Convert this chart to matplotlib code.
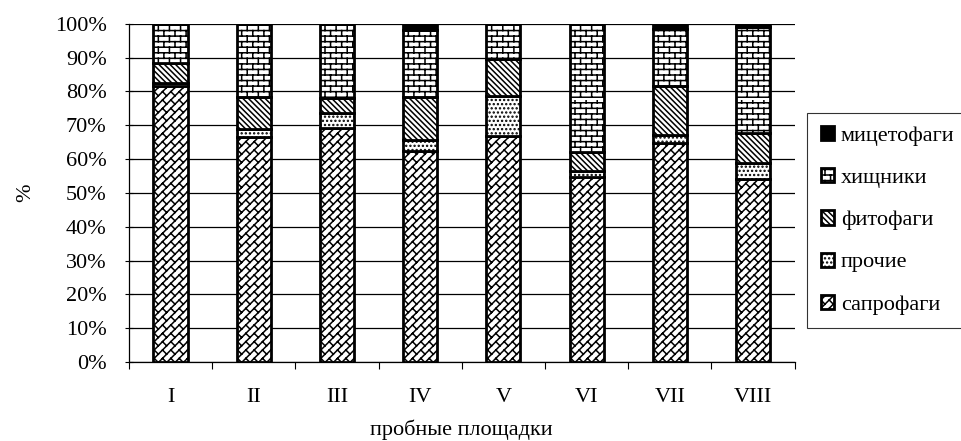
import warnings
import numpy as np
import matplotlib
matplotlib.use("Agg")
import matplotlib.pyplot as plt
import matplotlib.hatch as mhatch
from matplotlib.path import Path
from matplotlib.ticker import PercentFormatter

# доли трофических групп по пробным площадкам, %
plots = ["I", "II", "III", "IV", "V", "VI", "VII", "VIII"]
saprophages = [81.5, 66.5, 69.2, 62.4, 66.9, 54.7, 64.8, 54.1]
others = [1.0, 2.3, 4.5, 3.3, 11.8, 1.8, 2.4, 4.8]
phytophages = [6.0, 9.6, 4.4, 12.7, 10.9, 5.6, 14.5, 8.9]
predators = [11.5, 21.6, 21.9, 19.8, 10.4, 37.9, 16.8, 31.2]
mycetophages = [0.0, 0.0, 0.0, 1.8, 0.0, 0.0, 1.5, 1.0]


class _SegmentHatch(mhatch.HatchPatternBase):
    """Штриховка из отрезков, как кирпичные заливки в Excel."""
    char = None

    def __init__(self, hatch, density):
        n = hatch.count(self.char) * density
        n += n % 2  # чётное число рядов, чтобы плитка стыковалась
        self.segs = self.segments(n) if n else np.empty((0, 2, 2))
        self.num_vertices = len(self.segs) * 2

    def set_vertices_and_codes(self, vertices, codes):
        vertices[0::2] = self.segs[:, 0]
        vertices[1::2] = self.segs[:, 1]
        codes[0::2] = Path.MOVETO
        codes[1::2] = Path.LINETO


class HorizontalBrick(_SegmentHatch):
    char = "B"

    def segments(self, n):
        m = n // 2
        segs = []
        for k in range(n):
            y0 = (k + 0.5) / n
            segs.append([(0.0, y0), (1.0, y0)])
            for j in range(m):
                x = (j + 0.25 + 0.5 * (k % 2)) / m
                segs.append([(x, y0), (x, y0 + 1.0 / n)])
        return np.array(segs)


class DiagonalBrick(_SegmentHatch):
    char = "D"

    def segments(self, n):
        m = n // 2
        segs = []
        uv = lambda u, v: ((u - v) / 2, (u + v) / 2)
        for k in range(-n, n):
            v0 = (k + 0.5) / n
            segs.append([uv(-1, v0), uv(3, v0)])
            for j in range(-1, 2 * m + 1):
                u = (j + 0.25 + 0.5 * (k % 2)) / m
                segs.append([uv(u, v0), uv(u, v0 + 1.0 / n)])
        return np.array(segs)


mhatch._hatch_types.extend([HorizontalBrick, DiagonalBrick])
warnings.filterwarnings("ignore")

plt.rcParams["font.family"] = ["Liberation Serif", "DejaVu Serif"]
plt.rcParams["hatch.linewidth"] = 1.1
plt.rcParams["hatch.color"] = "black"

fig = plt.figure(figsize=(9.62, 4.41), dpi=100)
ax = fig.add_axes([0.134, 0.179, 0.692, 0.767])

groups = [
    ("сапрофаги", saprophages, "DD"),
    ("прочие", others, "...."),
    ("фитофаги", phytophages, "\\\\\\\\\\\\"),
    ("хищники", predators, "BBB"),
    ("мицетофаги", mycetophages, None),
]

x = np.arange(len(plots))
bottom = np.zeros(len(plots))
handles = []
for name, vals, hatch in groups:
    vals = np.array(vals)
    face = "black" if hatch is None else "white"
    bars = ax.bar(x, vals, 0.41, bottom=bottom, color=face, edgecolor="black",
                  hatch=hatch, linewidth=2.0, label=name, zorder=3)
    handles.append(bars)
    bottom += vals

ax.set_xlim(-0.5, len(plots) - 0.5)
ax.set_ylim(0, 100)
ax.set_yticks(np.arange(0, 101, 10))
ax.yaxis.set_major_formatter(PercentFormatter(decimals=0))
ax.set_xticks(x)
ax.set_xticklabels(plots)
ax.set_xticks(np.arange(-0.5, len(plots), 1), minor=True)
ax.tick_params(axis="x", which="major", length=0, pad=19, labelsize=16)
ax.tick_params(axis="x", which="minor", length=5, direction="out", width=0.8)
ax.tick_params(axis="y", length=6, direction="inout", width=0.8, labelsize=16, pad=13)
ax.grid(axis="y", color="black", linewidth=0.9, zorder=0)
for side in ("top", "right"):
    ax.spines[side].set_visible(False)
for side in ("left", "bottom"):
    ax.spines[side].set_linewidth(0.9)

ax.set_xlabel("пробные площадки", fontsize=16, labelpad=9)
ax.set_ylabel("%", fontsize=16, labelpad=14)

leg = fig.legend(handles[::-1], [g[0] for g in groups][::-1],
                 loc="upper right", bbox_to_anchor=(1.006, 0.744),
                 borderaxespad=0,
                 fontsize=16, frameon=True, fancybox=False, edgecolor="black",
                 handlelength=0.6, handleheight=0.6, handletextpad=0.3,
                 labelspacing=1.0, borderpad=0.6)
leg.get_frame().set_linewidth(0.8)

fig.savefig("out.png", dpi=100)
